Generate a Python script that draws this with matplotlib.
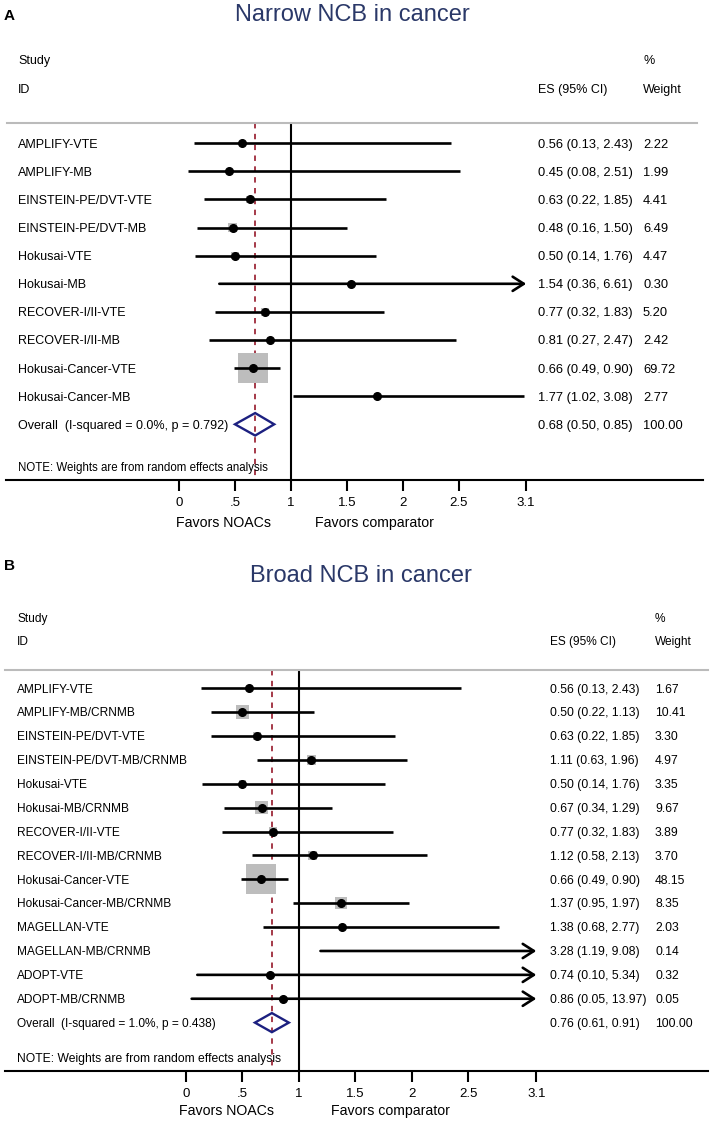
import numpy as np
import matplotlib
matplotlib.use('Agg')
import matplotlib.pyplot as plt
from matplotlib import transforms

plt.rcParams['font.family'] = ['Liberation Sans', 'DejaVu Sans']

# Panel A: narrow NCB
narrow_studies = ['AMPLIFY-VTE', 'AMPLIFY-MB', 'EINSTEIN-PE/DVT-VTE', 'EINSTEIN-PE/DVT-MB',
                  'Hokusai-VTE', 'Hokusai-MB', 'RECOVER-I/II-VTE', 'RECOVER-I/II-MB',
                  'Hokusai-Cancer-VTE', 'Hokusai-Cancer-MB']
narrow_es = [0.56, 0.45, 0.63, 0.48, 0.50, 1.54, 0.77, 0.81, 0.66, 1.77]
narrow_lo = [0.13, 0.08, 0.22, 0.16, 0.14, 0.36, 0.32, 0.27, 0.49, 1.02]
narrow_hi = [2.43, 2.51, 1.85, 1.50, 1.76, 6.61, 1.83, 2.47, 0.90, 3.08]
narrow_wt = [2.22, 1.99, 4.41, 6.49, 4.47, 0.30, 5.20, 2.42, 69.72, 2.77]
narrow_overall = [0.68, 0.50, 0.85]
narrow_overall_label = 'Overall  (I-squared = 0.0%, p = 0.792)'

# Panel B: broad NCB
broad_studies = ['AMPLIFY-VTE', 'AMPLIFY-MB/CRNMB', 'EINSTEIN-PE/DVT-VTE', 'EINSTEIN-PE/DVT-MB/CRNMB',
                 'Hokusai-VTE', 'Hokusai-MB/CRNMB', 'RECOVER-I/II-VTE', 'RECOVER-I/II-MB/CRNMB',
                 'Hokusai-Cancer-VTE', 'Hokusai-Cancer-MB/CRNMB', 'MAGELLAN-VTE', 'MAGELLAN-MB/CRNMB',
                 'ADOPT-VTE', 'ADOPT-MB/CRNMB']
broad_es = [0.56, 0.50, 0.63, 1.11, 0.50, 0.67, 0.77, 1.12, 0.66, 1.37, 1.38, 3.28, 0.74, 0.86]
broad_lo = [0.13, 0.22, 0.22, 0.63, 0.14, 0.34, 0.32, 0.58, 0.49, 0.95, 0.68, 1.19, 0.10, 0.05]
broad_hi = [2.43, 1.13, 1.85, 1.96, 1.76, 1.29, 1.83, 2.13, 0.90, 1.97, 2.77, 9.08, 5.34, 13.97]
broad_wt = [1.67, 10.41, 3.30, 4.97, 3.35, 9.67, 3.89, 3.70, 48.15, 8.35, 2.03, 0.14, 0.32, 0.05]
broad_overall = [0.76, 0.61, 0.91]
broad_overall_label = 'Overall  (I-squared = 1.0%, p = 0.438)'

tick_values = [0, 0.5, 1, 1.5, 2, 2.5, 3.1]
tick_labels = ['0', '.5', '1', '1.5', '2', '2.5', '3.1']

W, H = 710, 1122
fig = plt.figure(figsize=(W / 100, H / 100), dpi=100)

TITLE_COLOR = '#2a3868'
NAVY = '#1c2080'
DASH_RED = '#9e2a3a'
BOX_GREY = '#bdbdbd'


def ptext(x, y, s, **kw):
    fig.text(x / W, 1 - y / H, s, **kw)


def draw_panel(studies, es, lo, hi, wt, overall, overall_label, title, letter, L):
    es, lo, hi, wt = map(np.array, (es, lo, hi, wt))
    fs = L['fs']
    ax = fig.add_axes([0, 1 - L['bottom'] / H, 1, (L['bottom'] - L['top']) / H])
    ax.patch.set_visible(False)
    x0, sc, y0, pitch = L['x0'], L['scale'], L['y0'], L['pitch']
    ax.set_xlim(-x0 / sc, (W - x0) / sc)
    ax.set_ylim((L['bottom'] - y0) / pitch, (L['top'] - y0) / pitch)

    def row(ypx):
        return (ypx - y0) / pitch

    for sp in ax.spines.values():
        sp.set_visible(False)
    ax.set_yticks([])
    ax.spines['bottom'].set_position(('data', row(L['axis_y'])))
    ax.set_xticks(tick_values, tick_labels)
    ax.tick_params(axis='x', direction='out', length=8, width=1.5,
                   labelsize=L['tick_fs'], pad=4)

    blended = transforms.blended_transform_factory(ax.transAxes, ax.transData)
    cap = fs * 100 / 72 * 0.716
    txt_tr = transforms.offset_copy(blended, fig=fig, y=-cap / 2, units='dots')

    n = len(studies)
    rows = np.arange(n)

    # header / title
    ptext(4, L['letter_y'], letter, fontsize=11, fontweight='bold', va='baseline')
    ptext(L['title_x'], L['title_y'], title, fontsize=17, color=TITLE_COLOR,
          ha='center', va='baseline')
    ptext(L['lab_x'], L['study_y'], 'Study', fontsize=fs, va='baseline')
    ptext(L['lab_x'], L['id_y'], 'ID', fontsize=fs, va='baseline')
    ptext(L['es_x'], L['id_y'], 'ES (95% CI)', fontsize=fs, va='baseline')
    ptext(L['wt_x'], L['study_y'], '%', fontsize=fs, va='baseline')
    ptext(L['wt_x'], L['id_y'], 'Weight', fontsize=fs, va='baseline')

    # separator and axis line
    ax.axhline(row(L['sep_y']), xmin=L['sep_x'][0] / W, xmax=L['sep_x'][1] / W,
               color='#bbbbbb', lw=1.5)
    ax.axhline(row(L['axis_y']), xmin=L['axis_x'][0] / W, xmax=L['axis_x'][1] / W,
               color='black', lw=1.5)

    # reference lines
    ax.vlines(1, row(L['sep_y']), row(L['axis_y']), color='black', lw=1.5, zorder=1)
    ax.vlines(overall[0], row(L['sep_y']), row(L['axis_y']), color=DASH_RED, lw=1.3,
              linestyles=(0, (3, 3)), zorder=1)

    # weight boxes
    xmax = tick_values[-1]
    inside = es <= xmax
    smax = (30 * 72 / 100) ** 2
    ax.scatter(es[inside], rows[inside], marker='s', s=smax * wt[inside] / wt.max(),
               color=BOX_GREY, lw=0, zorder=2)

    # CI lines
    for r, l, h in zip(rows, lo, hi):
        if h > xmax:
            ax.annotate('', xy=(xmax, r), xytext=(l, r),
                        arrowprops=dict(arrowstyle='->,head_length=0.5,head_width=0.32',
                                        lw=1.9, color='black', shrinkA=0, shrinkB=0,
                                        mutation_scale=16), zorder=3)
        else:
            ax.hlines(r, l, h, color='black', lw=1.9, zorder=3)
    ax.plot(es[inside], rows[inside], 'o', ms=5.5, color='black', ls='none', zorder=4)

    # overall diamond
    oe, ol, oh = overall
    ax.fill([ol, oe, oh, oe, ol], [n, n - 0.4, n, n + 0.4, n], fill=False,
            edgecolor=NAVY, lw=1.7, zorder=5)

    # text columns
    for r, name, e, l, h, w in zip(rows, studies, es, lo, hi, wt):
        ax.text(L['lab_x'] / W, r, name, transform=txt_tr, fontsize=fs, va='baseline')
        ax.text(L['es_x'] / W, r, f'{e:.2f} ({l:.2f}, {h:.2f})', transform=txt_tr,
                fontsize=L['es_fs'], va='baseline')
        ax.text(L['wt_x'] / W, r, f'{w:.2f}', transform=txt_tr, fontsize=L['es_fs'],
                va='baseline')
    ax.text(L['lab_x'] / W, n, overall_label, transform=txt_tr, fontsize=fs, va='baseline')
    ax.text(L['es_x'] / W, n, f'{oe:.2f} ({ol:.2f}, {oh:.2f})', transform=txt_tr,
            fontsize=L['es_fs'], va='baseline')
    ax.text(L['wt_x'] / W, n, '100.00', transform=txt_tr, fontsize=L['es_fs'], va='baseline')
    ptext(L['lab_x'], L['note_y'], 'NOTE: Weights are from random effects analysis',
          fontsize=L['note_fs'], va='baseline')

    ptext(L['fav1_x'], L['fav_y'], 'Favors NOACs', fontsize=10.2, va='baseline')
    ptext(L['fav2_x'], L['fav_y'], 'Favors comparator', fontsize=10.2, va='baseline')


layout_a = dict(top=0, bottom=540, x0=179, scale=112, y0=143.3, pitch=28.1, fs=9.0,
                es_fs=9.3, note_fs=8.3, tick_fs=9.5, letter_y=20, title_x=352, title_y=21,
                lab_x=18, study_y=64, id_y=93, es_x=538, wt_x=643, sep_y=123, sep_x=(7, 697),
                axis_y=480, axis_x=(6, 703), note_y=471, fav_y=527, fav1_x=176, fav2_x=315)
layout_b = dict(top=540, bottom=1122, x0=186, scale=113, y0=688.3, pitch=23.88, fs=8.6,
                es_fs=8.7, note_fs=8.7, tick_fs=9.5, letter_y=570, title_x=361, title_y=582,
                lab_x=17, study_y=622, id_y=645, es_x=550, wt_x=655, sep_y=670, sep_x=(5, 708),
                axis_y=1071, axis_x=(5, 708), note_y=1062, fav_y=1115, fav1_x=179, fav2_x=331)

draw_panel(narrow_studies, narrow_es, narrow_lo, narrow_hi, narrow_wt, narrow_overall,
           narrow_overall_label, 'Narrow NCB in cancer', 'A', layout_a)
draw_panel(broad_studies, broad_es, broad_lo, broad_hi, broad_wt, broad_overall,
           broad_overall_label, 'Broad NCB in cancer', 'B', layout_b)

fig.savefig('out.png', dpi=100, facecolor='white')
